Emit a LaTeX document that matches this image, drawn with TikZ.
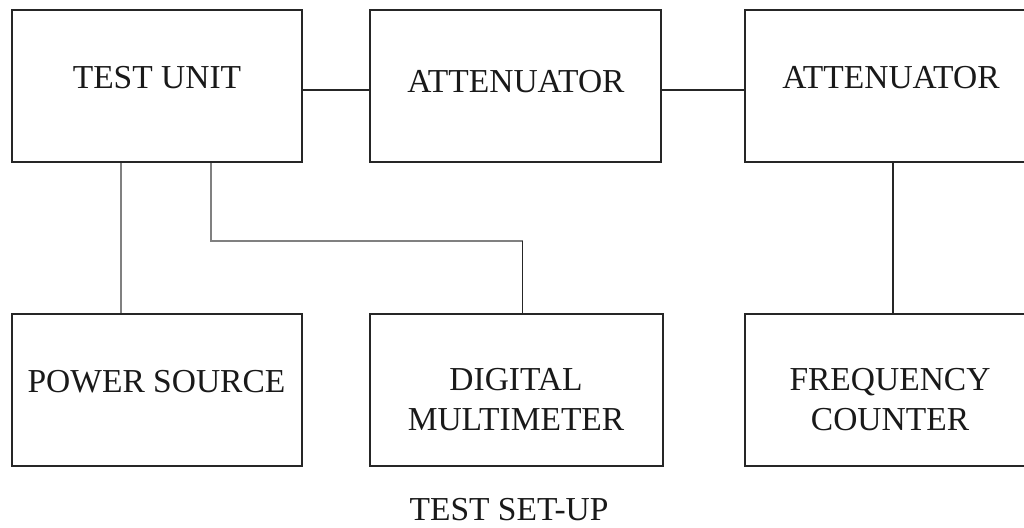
\documentclass[tikz,border=0pt]{standalone}
\usepackage{fontspec}
\setmainfont{Liberation Serif}
\begin{document}
\begin{tikzpicture}[x=1pt,y=-1pt,
  box/.style={draw=black!85, line width=1.6pt, minimum height=152pt, inner sep=0pt},
  lbl/.style={font=\fontsize{33.5}{40}\selectfont, inner sep=0pt, align=center, text=black!90},
  wire/.style={line width=1.4pt, draw=black!85},
  greywire/.style={line width=1.6pt, draw=black!50}]
\useasboundingbox (0,0) rectangle (1024,527);
% boxes
\node[box, minimum width=290pt] (tu)  at (157,86) {};
\node[box, minimum width=291pt] (at1) at (515.5,86) {};
\node[box, minimum width=295pt] (at2) at (892.5,86) {};
\node[box, minimum width=290pt] (ps)  at (157,390) {};
\node[box, minimum width=293pt] (dm)  at (516.5,390) {};
\node[box, minimum width=295pt] (fc)  at (892.5,390) {};
% labels
\node[lbl, anchor=base] (tut) at (157,88) {TEST UNIT};
\node[lbl, anchor=base] (at1t) at (516,92) {ATTENUATOR};
\node[lbl, anchor=base] (at2t) at (891,88) {ATTENUATOR};
\node[lbl, anchor=base] (pst) at (156.5,392) {POWER SOURCE};
\node[lbl, anchor=north] (dmt) at (516,368) {DIGITAL\\MULTIMETER};
\node[lbl, anchor=north] (fct) at (890,368) {FREQUENCY\\COUNTER};
\node[lbl, anchor=base] (title) at (509,520.5) {TEST SET-UP};
% connectors
\draw[wire] ([yshift=-4pt]tu.east) -- ([yshift=-4pt]at1.west);
\draw[wire] ([yshift=-4pt]at1.east) -- ([yshift=-4pt]at2.west);
\draw[greywire] ([xshift=-36pt]tu.south) -- ([xshift=-36pt]ps.north);
\coordinate (bend) at (0,240.7);
\coordinate (tuA) at ([xshift=54pt]tu.south);
\coordinate (dmA) at ([xshift=6pt]dm.north);
\draw[greywire] (tuA) -- (tuA |- bend) -| (dmA);
\draw[wire] (dmA |- bend) -- (dmA);
\draw[wire] ([xshift=0.5pt]at2.south) -- ([xshift=0.5pt]fc.north);
\end{tikzpicture}
\end{document}
